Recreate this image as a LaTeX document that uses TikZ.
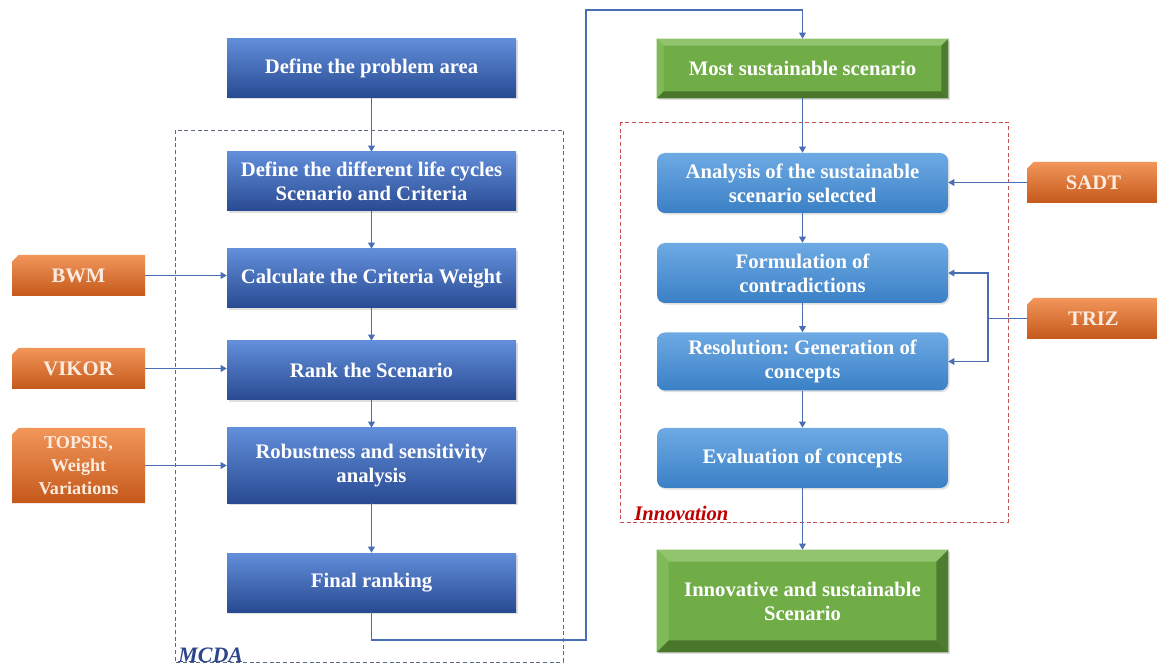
\documentclass[tikz,border=0pt]{standalone}
\usepackage{fontspec}
\setmainfont{Liberation Serif}
\frenchspacing
\usetikzlibrary{arrows.meta,shapes.misc,shadows,calc}
\definecolor{dbtop}{RGB}{98,142,218}
\definecolor{dbbot}{RGB}{40,74,146}
\definecolor{lbtop}{RGB}{110,170,228}
\definecolor{lbbot}{RGB}{58,128,198}
\definecolor{ortop}{RGB}{242,150,90}
\definecolor{orbot}{RGB}{196,88,26}
\definecolor{ortxt}{RGB}{252,236,224}
\definecolor{grface}{RGB}{112,173,70}
\definecolor{grtop}{RGB}{146,196,110}
\definecolor{grleft}{RGB}{128,186,88}
\definecolor{grright}{RGB}{78,125,48}
\definecolor{grbot}{RGB}{74,118,44}
\definecolor{conn}{RGB}{74,110,180}
\definecolor{mcdac}{RGB}{90,104,128}
\definecolor{mcdat}{RGB}{44,70,138}
\definecolor{innoc}{RGB}{200,80,78}
\definecolor{innot}{RGB}{192,0,0}
\tikzset{
  txt/.style={text=white,align=center,font=\bfseries\fontsize{15.5}{18}\selectfont,inner sep=0pt},
  dbox/.style={txt,rectangle,top color=dbtop,bottom color=dbbot,minimum width=216.75pt,minimum height=44.25pt,
     drop shadow={opacity=0.25,shadow xshift=1.2pt,shadow yshift=-1.2pt}},
  lbox/.style={txt,rectangle,rounded corners=6pt,top color=lbtop,bottom color=lbbot,minimum width=218.25pt,minimum height=45pt,
     drop shadow={opacity=0.25,shadow xshift=1.2pt,shadow yshift=-1.2pt}},
  obox/.style={txt,chamfered rectangle,chamfered rectangle corners=north west,chamfered rectangle xsep=2.5pt,chamfered rectangle ysep=2.5pt,
     top color=ortop,bottom color=orbot,minimum width=99.75pt,minimum height=30.75pt,text=ortxt},
  gbox/.style={txt,rectangle,fill=grface,minimum width=218.25pt,
     drop shadow={opacity=0.25,shadow xshift=1.5pt,shadow yshift=-1.5pt}},
  arr/.style={draw=conn,line width=0.8pt,-{Triangle[width=5pt,length=4.5pt]}},
  ln/.style={draw=conn,line width=0.8pt},
}
\newcommand{\bevelbox}[2]{%
  \fill[grtop] (#1.north west) -- (#1.north east) -- ($(#1.north east)+(-#2,#2)$) -- ($(#1.north west)+(#2,#2)$) -- cycle;
  \fill[grleft] (#1.north west) -- ($(#1.north west)+(#2,#2)$) -- ($(#1.south west)+(#2,-#2)$) -- (#1.south west) -- cycle;
  \fill[grright] (#1.north east) -- ($(#1.north east)+(-#2,#2)$) -- ($(#1.south east)+(-#2,-#2)$) -- (#1.south east) -- cycle;
  \fill[grbot] (#1.south west) -- ($(#1.south west)+(#2,-#2)$) -- ($(#1.south east)+(-#2,-#2)$) -- (#1.south east) -- cycle;
}
\begin{document}
\begin{tikzpicture}[x=0.75pt,y=-0.75pt]
\useasboundingbox[fill=white] (0,0) rectangle (1157,666);
% dashed regions
\draw[mcdac,line width=0.6pt,dash pattern=on 3pt off 2pt] (175,130) rectangle (563,662);
\node[anchor=base west,inner sep=0pt,text=mcdat,font=\bfseries\itshape\fontsize{16.5}{18}\selectfont] (mcdalbl) at (178,662) {MCDA};
\draw[innoc,line width=0.6pt,dash pattern=on 3pt off 2pt] (620,122) rectangle (1008,522);
\node[anchor=base west,inner sep=0pt,text=innot,font=\bfseries\itshape\fontsize{15.5}{18}\selectfont] (innolbl) at (634,521) {Innovation};
% left column
\node[dbox] (p1) at (371.5,68) {Define the problem area};
\node[dbox] (p2) at (371.5,181.5) {Define the different life cycles\\Scenario and Criteria};
\node[dbox] (p3) at (371.5,278.5) {Calculate the Criteria Weight};
\node[dbox] (p4) at (371.5,370.5) {Rank the Scenario};
\node[dbox,minimum height=56.25pt] (p5) at (371.5,465.5) {Robustness and sensitivity\\analysis};
\node[dbox] (p6) at (371.5,582.5) {Final ranking};
% orange inputs
\node[obox] (bwm) at (78.5,275.5) {BWM};
\node[obox] (vikor) at (78.5,368.5) {VIKOR};
\node[obox,minimum height=56.25pt,font=\bfseries\fontsize{13.6}{17}\selectfont] (topsis) at (78.5,465.5) {TOPSIS,\\Weight\\Variations};
\node[obox] (sadt) at (1093.5,182.5) {SADT};
\node[obox] (triz) at (1093.5,318.5) {TRIZ};
% green boxes
\node[gbox,minimum height=44.25pt] (most) at (802.5,68.5) {};
\bevelbox{most}{7}
\node[txt] (mostt) at (most) {Most sustainable scenario};
\node[gbox,minimum height=76.5pt] (innov) at (802.5,601) {};
\bevelbox{innov}{12}
\node[txt] (innovt) at (innov) {Innovative and sustainable\\Scenario};
% light blue boxes
\node[lbox] (a1) at (802.5,183) {Analysis of the sustainable\\scenario selected};
\node[lbox] (a2) at (802.5,273) {Formulation of\\contradictions};
\node[lbox,minimum height=43.5pt] (a3) at (802.5,361.5) {Resolution: Generation of\\concepts};
\node[lbox] (a4) at (802.5,458) {Evaluation of concepts};
% connectors left
\draw[arr] (p1) -- (p2);
\draw[arr] (p2) -- (p3);
\draw[arr] (p3) -- (p4);
\draw[arr] (p4) -- (p5);
\draw[arr] (p5) -- (p6);
\draw[arr] (bwm.east) -- (bwm.east -| p3.west);
\draw[arr] (vikor.east) -- (vikor.east -| p4.west);
\draw[arr] (topsis.east) -- (topsis.east -| p5.west);
% route to right column
\coordinate (r1) at (586,640);
\coordinate (r2) at (586,10);
\draw[arr] (p6.south) |- (r1) -- (r2) -| (most.north);
% right column
\draw[arr] (most) -- (a1);
\draw[arr] (a1) -- (a2);
\draw[arr] (a2) -- (a3);
\draw[arr] (a3) -- (a4);
\draw[arr] (a4) -- (innov);
\draw[arr] (sadt.west) -- (sadt.west -| a1.east);
\coordinate (tj) at (988,318.5);
\draw[ln] (triz.west) -- (tj);
\draw[arr] (tj) |- (a2.east);
\draw[arr] (tj) |- (a3.east);
\end{tikzpicture}
\end{document}
